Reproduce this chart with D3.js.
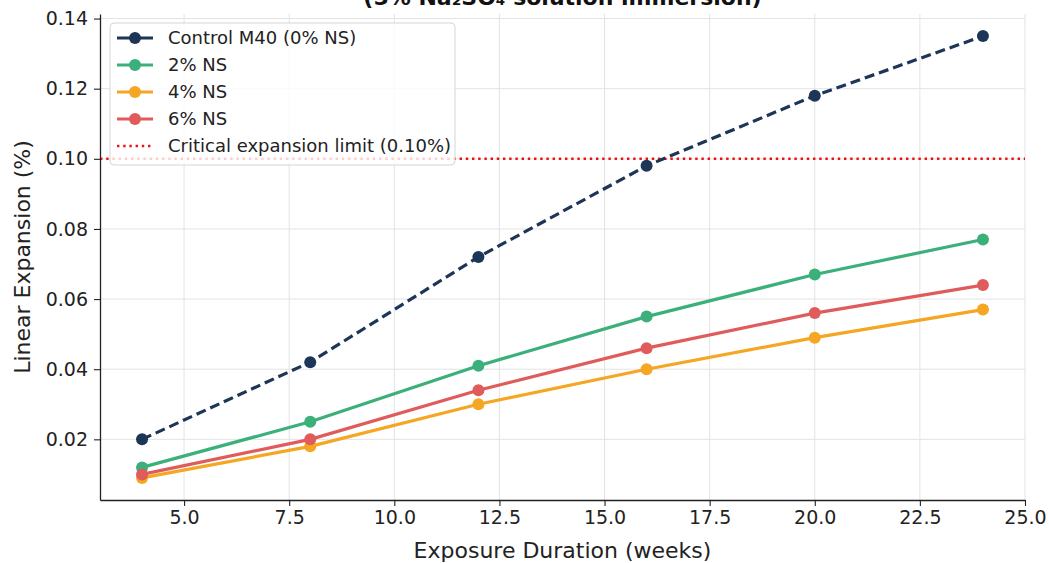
<!DOCTYPE html>
<html>
<head>
<meta charset="utf-8">
<script src="https://cdn.jsdelivr.net/npm/d3@7"></script>
<style>
  body { margin: 0; background: #fff; }
  svg { font-family: "DejaVu Sans", sans-serif; }
</style>
</head>
<body>
<div id="chart"></div>
<script>
// data
const weeks = [4, 8, 12, 16, 20, 24];
const control = [0.020, 0.042, 0.072, 0.098, 0.118, 0.135];
const ns2 = [0.012, 0.025, 0.041, 0.055, 0.067, 0.077];
const ns4 = [0.009, 0.018, 0.030, 0.040, 0.049, 0.057];
const ns6 = [0.010, 0.020, 0.034, 0.046, 0.056, 0.064];
const seriesNames = ['Control M40 (0% NS)', '2% NS', '4% NS', '6% NS'];
const limitValue = 0.10;
const limitName = 'Critical expansion limit (0.10%)';
const xTicks = [5, 7.5, 10, 12.5, 15, 17.5, 20, 22.5, 25];
const yTicks = [0.02, 0.04, 0.06, 0.08, 0.10, 0.12, 0.14];

const W = 1049, H = 563;
const margin = { left: 100, right: 24, top: 14, bottom: 63 };

const series = [
  { name: seriesNames[0], values: control, color: '#1d3557', dash: '10,5' },
  { name: seriesNames[1], values: ns2, color: '#3cb07a', dash: null },
  { name: seriesNames[2], values: ns4, color: '#f5a623', dash: null },
  { name: seriesNames[3], values: ns6, color: '#e05c5c', dash: null }
];

const svg = d3.select('#chart').append('svg')
  .attr('width', W).attr('height', H);

const x = d3.scaleLinear().domain([3, 25]).range([margin.left, W - margin.right]);
const y = d3.scaleLinear().domain([0.0027, 0.1413]).range([H - margin.bottom, margin.top]);

// grid
svg.append('g').selectAll('line').data(xTicks).enter().append('line')
  .attr('x1', d => x(d)).attr('x2', d => x(d))
  .attr('y1', y.range()[0]).attr('y2', y.range()[1])
  .attr('stroke', '#e3e3e3').attr('stroke-width', 1);
svg.append('g').selectAll('line').data(yTicks).enter().append('line')
  .attr('x1', x.range()[0]).attr('x2', x.range()[1])
  .attr('y1', d => y(d)).attr('y2', d => y(d))
  .attr('stroke', '#e3e3e3').attr('stroke-width', 1);

// title (cut off at top in the reference too)
svg.append('text')
  .attr('x', (x.range()[0] + x.range()[1]) / 2).attr('y', 5)
  .attr('text-anchor', 'middle')
  .attr('font-size', '22px').attr('font-weight', 'bold').attr('fill', '#111')
  .text('(5% Na\u2082SO\u2084 solution immersion)');

// critical limit
svg.append('line')
  .attr('x1', x.range()[0]).attr('x2', x.range()[1])
  .attr('y1', y(limitValue)).attr('y2', y(limitValue))
  .attr('stroke', '#ee1111').attr('stroke-width', 2.4)
  .attr('stroke-dasharray', '2.4,3.8');

// series
const line = d3.line().x((d, i) => x(weeks[i])).y(d => y(d));
series.forEach(s => {
  svg.append('path')
    .attr('d', line(s.values))
    .attr('fill', 'none')
    .attr('stroke', s.color)
    .attr('stroke-width', 3.2)
    .attr('stroke-dasharray', s.dash);
  svg.append('g').selectAll('circle').data(s.values).enter().append('circle')
    .attr('cx', (d, i) => x(weeks[i])).attr('cy', d => y(d))
    .attr('r', 6).attr('fill', s.color);
});

// axes
const xAxis = svg.append('g')
  .attr('transform', `translate(0,${y.range()[0]})`)
  .call(d3.axisBottom(x).tickValues(xTicks).tickFormat(d3.format('.1f')).tickSize(6).tickSizeOuter(0).tickPadding(5));
const yAxis = svg.append('g')
  .attr('transform', `translate(${x.range()[0]},0)`)
  .call(d3.axisLeft(y).tickValues(yTicks).tickFormat(d3.format('.2f')).tickSize(6).tickSizeOuter(0).tickPadding(6));
[xAxis, yAxis].forEach(a => {
  a.select('.domain').attr('stroke', '#222').attr('stroke-width', 1.3);
  a.selectAll('.tick line').attr('stroke', '#222').attr('stroke-width', 1.1);
  a.selectAll('.tick text').attr('font-size', '19px').attr('fill', '#222')
    .attr('font-family', '"DejaVu Sans", sans-serif');
});

// axis labels
svg.append('text')
  .attr('x', (x.range()[0] + x.range()[1]) / 2).attr('y', 558)
  .attr('text-anchor', 'middle').attr('font-size', '22px').attr('fill', '#222')
  .text('Exposure Duration (weeks)');
svg.append('text')
  .attr('transform', `translate(30,${(y.range()[0] + y.range()[1]) / 2}) rotate(-90)`)
  .attr('text-anchor', 'middle').attr('font-size', '22px').attr('fill', '#222')
  .text('Linear Expansion (%)');

// legend
const lg = svg.append('g').attr('transform', 'translate(110,23)');
lg.append('rect')
  .attr('width', 345).attr('height', 142).attr('rx', 4)
  .attr('fill', 'rgba(255,255,255,0.8)').attr('stroke', '#d5d5d5');
const items = series.concat([{ name: limitName, color: '#ee1111', limit: true }]);
items.forEach((s, i) => {
  const yy = 15 + i * 27;
  const row = lg.append('g').attr('transform', `translate(0,${yy})`);
  if (s.limit) {
    row.append('line').attr('x1', 7).attr('x2', 43).attr('y1', 0).attr('y2', 0)
      .attr('stroke', s.color).attr('stroke-width', 2.4).attr('stroke-dasharray', '2.4,3.8');
  } else {
    row.append('line').attr('x1', 7).attr('x2', 43).attr('y1', 0).attr('y2', 0)
      .attr('stroke', s.color).attr('stroke-width', 3.2);
    row.append('circle').attr('cx', 25).attr('cy', 0).attr('r', 6).attr('fill', s.color);
  }
  row.append('text').attr('x', 58).attr('y', 0).attr('dy', '0.35em')
    .attr('font-size', '18px').attr('fill', '#222').text(s.name);
});
</script>
</body>
</html>
